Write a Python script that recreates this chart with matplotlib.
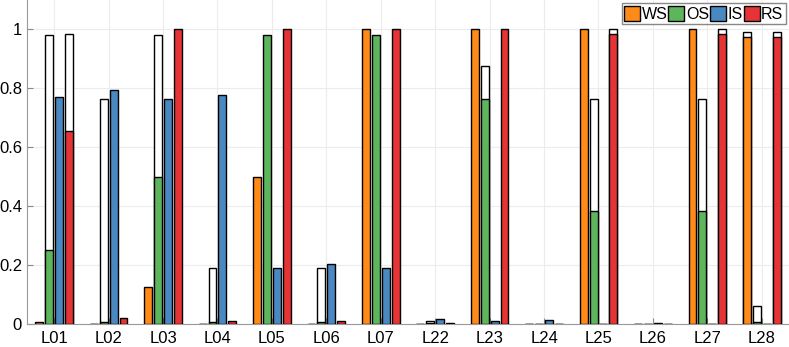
import numpy as np
import matplotlib.pyplot as plt

plt.rcParams['font.family'] = ['Liberation Sans', 'DejaVu Sans']

# Categories and series
labels = ['L01', 'L02', 'L03', 'L04', 'L05', 'L06', 'L07',
          'L22', 'L23', 'L24', 'L25', 'L26', 'L27', 'L28']
series = ['WS', 'OS', 'IS', 'RS']

# coloured bars
ws = [0.006, 0.001, 0.125, 0.001, 0.5, 0.001, 1.0, 0.002, 1.0, 0.001, 1.0, 0.002, 1.0, 0.976]
os_ = [0.25, 0.007, 0.5, 0.007, 0.98, 0.007, 0.98, 0.005, 0.764, 0.002, 0.383, 0.002, 0.383, 0.008]
is_ = [0.771, 0.793, 0.764, 0.778, 0.191, 0.205, 0.191, 0.016, 0.01, 0.015, 0.002, 0.004, 0.002, 0.001]
rs = [0.656, 0.02, 1.0, 0.01, 1.0, 0.01, 1.0, 0.003, 1.0, 0.002, 0.983, 0.002, 0.983, 0.976]

# white (outline) bars behind
ws_w = [0, 0, 0, 0, 0, 0, 0, 0, 0, 0, 0, 0, 0, 0.991]
os_w = [0.98, 0.764, 0.98, 0.191, 0, 0.191, 0, 0.012, 0.875, 0, 0.764, 0, 0.764, 0.062]
is_w = [0, 0, 0, 0, 0, 0, 0, 0, 0, 0, 0, 0, 0, 0]
rs_w = [0.985, 0, 0, 0, 0, 0, 0, 0, 0, 0, 1.0, 0, 1.0, 0.991]

colors = ['#FF8A17', '#5DB65B', '#4A88C2', '#E63335']

x = np.arange(1, len(labels) + 1)
gw = 4 / 5.5
step = gw / 4
bw = step * 0.8
offs = (np.arange(4) - 1.5) * step

fig = plt.figure(figsize=(7.89, 3.47), dpi=100)
ax = fig.add_axes([0.0342, 0.066, 0.9658, 0.934])

whites = [ws_w, os_w, is_w, rs_w]
vals = [ws, os_, is_, rs]
for k in range(4):
    ax.bar(x + offs[k], whites[k], bw, color='white', edgecolor='black',
           linewidth=1.0, zorder=2)
for k in range(4):
    ax.bar(x + offs[k], vals[k], bw, color=colors[k], edgecolor='black',
           linewidth=1.0, zorder=3, label=series[k])

ax.set_xlim(0.5, 14.5)
ax.set_ylim(0, 1.1)
ax.set_xticks(x)
ax.set_xticklabels(labels)
ax.set_yticks([0, 0.2, 0.4, 0.6, 0.8, 1])
ax.set_yticklabels(['0', '0.2', '0.4', '0.6', '0.8', '1'])
ax.tick_params(labelsize=12, direction='in', color='#888888', length=4)
ax.tick_params(axis='x', pad=5)
ax.grid(True, color='#ececec', linewidth=0.8, zorder=0)
ax.set_axisbelow(True)
for s in ['top', 'right']:
    ax.spines[s].set_visible(False)
for s in ['left', 'bottom']:
    ax.spines[s].set_color('#999999')

leg = ax.legend(loc='upper right', ncol=4, fontsize=11.5, handlelength=1.0,
                handleheight=1.1, handletextpad=0.1, columnspacing=0.05,
                borderpad=0.15, borderaxespad=0.2, fancybox=False, framealpha=1)
leg.get_frame().set_edgecolor('#888888')

fig.savefig('out.png', dpi=100)
